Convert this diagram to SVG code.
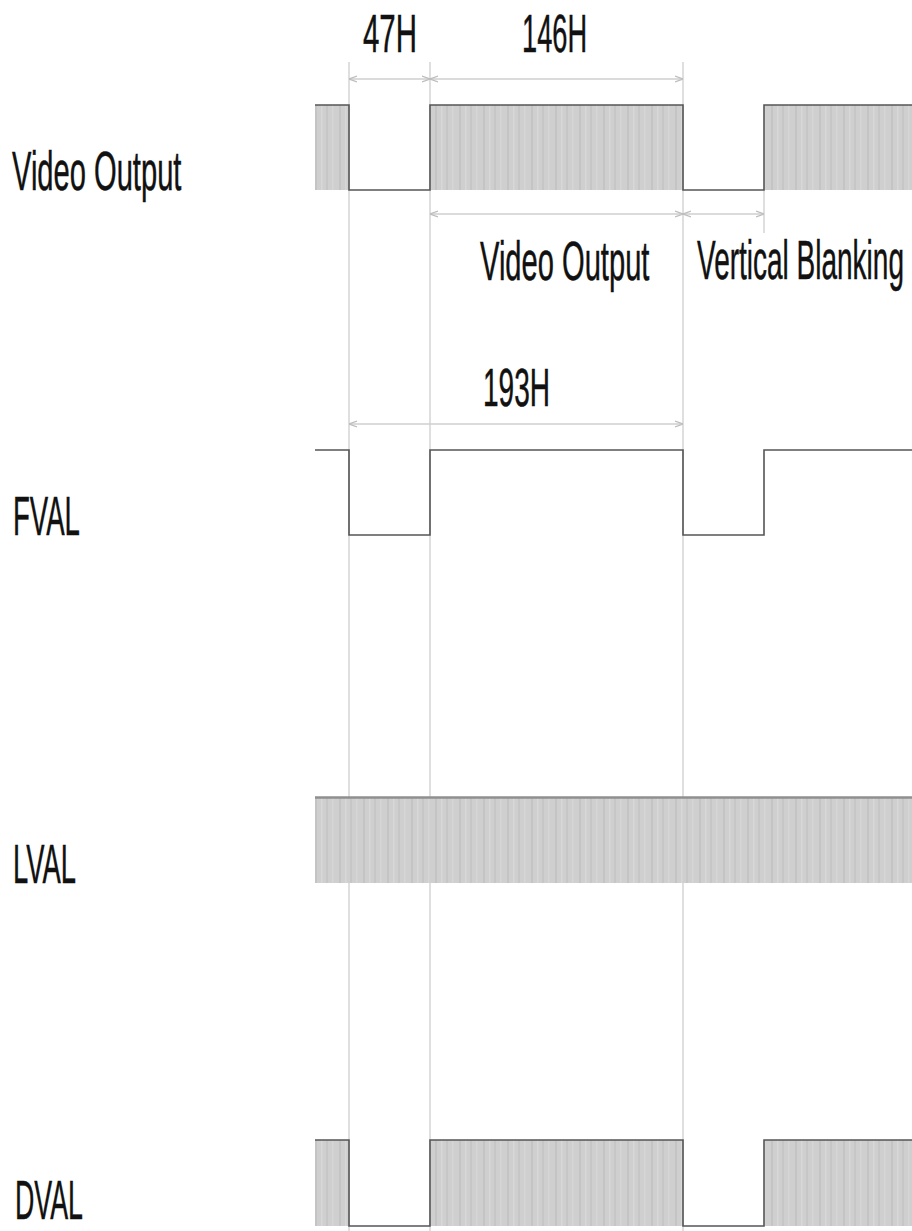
<svg xmlns="http://www.w3.org/2000/svg" width="912" height="1231" viewBox="0 0 912 1231">
<style>
.lbl{font-family:"Liberation Sans",Arial,sans-serif;font-size:56px;fill:#111;stroke:#111;stroke-width:0.5}
.dim{font-family:"Liberation Sans",Arial,sans-serif;font-size:54px;fill:#111;stroke:#111;stroke-width:0.5}
.guide{stroke:#d4d4d4;stroke-width:1.5;fill:none}
.dl{stroke:#cfcfcf;stroke-width:1.5;fill:none}
.sig{stroke:#555;stroke-width:1.6;fill:none}
.shade{fill:url(#stripes)}
</style>
<defs>
<pattern id="stripes" patternUnits="userSpaceOnUse" width="24" height="10">
<rect width="24" height="10" fill="#cfcfcf"/>
<rect x="3" width="2" height="10" fill="#c4c4c4"/>
<rect x="9" width="1.5" height="10" fill="#d8d8d8"/>
<rect x="14" width="2" height="10" fill="#c6c6c6"/>
<rect x="20" width="1.5" height="10" fill="#d6d6d6"/>
</pattern>
<marker id="ah" viewBox="0 0 8 8" refX="8" refY="4" markerWidth="8" markerHeight="8" markerUnits="userSpaceOnUse" orient="auto-start-reverse">
<path d="M0,1 L8,4 L0,7" fill="none" stroke="#bdbdbd" stroke-width="1.2"/>
</marker>
</defs>

<g id="guides">
<line class="guide" x1="349" y1="62" x2="349" y2="1231"/>
<line class="guide" x1="430" y1="62" x2="430" y2="1231"/>
<line class="guide" x1="683" y1="62" x2="683" y2="1231"/>
<line class="guide" x1="764" y1="190" x2="764" y2="233"/>
</g>

<g id="connectors">
<line class="dl" x1="349" y1="79" x2="430" y2="79" marker-start="url(#ah)" marker-end="url(#ah)"/>
<line class="dl" x1="430" y1="79" x2="683" y2="79" marker-start="url(#ah)" marker-end="url(#ah)"/>
<line class="dl" x1="430" y1="214" x2="683" y2="214" marker-start="url(#ah)" marker-end="url(#ah)"/>
<line class="dl" x1="683" y1="214" x2="764" y2="214" marker-start="url(#ah)" marker-end="url(#ah)"/>
<line class="dl" x1="349" y1="424" x2="683" y2="424" marker-start="url(#ah)" marker-end="url(#ah)"/>
</g>

<g id="dimension-labels">
<text class="dim" transform="translate(363,52) scale(0.545,1)">47H</text>
<text class="dim" transform="translate(522,52) scale(0.504,1)">146H</text>
<text class="dim" transform="translate(483,406) scale(0.519,1)">193H</text>
<text class="lbl" transform="translate(480,280) scale(0.52,1)">Video Output</text>
<text class="lbl" transform="translate(697,279) scale(0.5,1)">Vertical Blanking</text>
</g>

<g id="video-output">
<text class="lbl" transform="translate(12,190) scale(0.52,1)">Video Output</text>
<rect class="shade" x="315" y="105" width="34" height="85"/>
<rect class="shade" x="430" y="105" width="253" height="85"/>
<rect class="shade" x="764" y="105" width="148" height="85"/>
<polyline class="sig" points="315,105 349,105 349,190 430,190 430,105 683,105 683,190 764,190 764,105 912,105"/>
</g>

<g id="fval">
<text class="lbl" transform="translate(13,535) scale(0.493,1)">FVAL</text>
<polyline class="sig" points="315,450 349,450 349,535 430,535 430,450 683,450 683,535 764,535 764,450 912,450"/>
</g>

<g id="lval">
<text class="lbl" transform="translate(13,883) scale(0.489,1)">LVAL</text>
<rect class="shade" x="315" y="797" width="597" height="86"/>
<line x1="315" y1="797.5" x2="912" y2="797.5" stroke="#8f8f8f" stroke-width="2.5"/>
</g>

<g id="dval">
<text class="lbl" transform="translate(15,1219) scale(0.478,1)">DVAL</text>
<rect class="shade" x="315" y="1140" width="34" height="86"/>
<rect class="shade" x="430" y="1140" width="253" height="86"/>
<rect class="shade" x="764" y="1140" width="148" height="86"/>
<polyline class="sig" points="315,1140 349,1140 349,1226 430,1226 430,1140 683,1140 683,1226 764,1226 764,1140 912,1140"/>
</g>
</svg>
